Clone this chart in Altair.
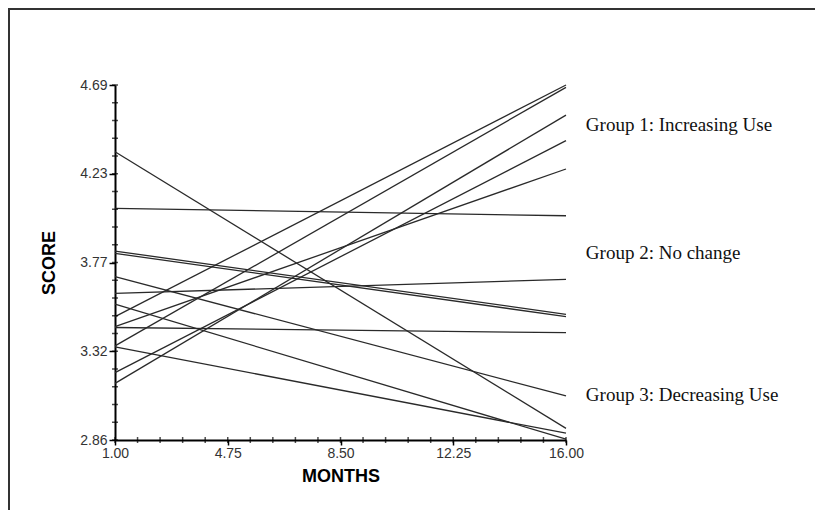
import altair as alt
import pandas as pd

# ---- data ----
start_month = 1.0
end_month = 16.0
start_scores = [4.346, 4.054, 3.834, 3.822, 3.702, 3.616, 3.560, 3.496, 3.445, 3.440, 3.345, 3.340, 3.207, 3.152]
end_scores = [2.920, 4.016, 3.508, 3.496, 3.087, 3.688, 2.864, 4.690, 4.257, 3.413, 4.678, 2.895, 4.403, 4.535]

y_tick_values = [2.86, 2.9515, 3.043, 3.1345, 3.226, 3.3175, 3.409, 3.5005, 3.592, 3.6835, 3.775,
                 3.8665, 3.958, 4.0495, 4.141, 4.2325, 4.324, 4.4155, 4.507, 4.5985, 4.69]
y_major_values = [2.86, 3.3175, 3.775, 4.2325, 4.69]

x_tick_values = [1.0, 1.75, 2.5, 3.25, 4.0, 4.75, 5.5, 6.25, 7.0, 7.75, 8.5,
                 9.25, 10.0, 10.75, 11.5, 12.25, 13.0, 13.75, 14.5, 15.25, 16.0]
x_major_values = [1.0, 4.75, 8.5, 12.25, 16.0]

group_labels = ["Group 1: Increasing Use", "Group 2: No change", "Group 3: Decreasing Use"]
group_label_scores = [4.484, 3.824, 3.092]
group_label_month = 16.66

# ---- build tables ----
rows = []
for i, (s, e) in enumerate(zip(start_scores, end_scores)):
    rows.append({"id": i, "month": start_month, "score": s})
    rows.append({"id": i, "month": end_month, "score": e})
lines_df = pd.DataFrame(rows)
labels_df = pd.DataFrame({"label": group_labels, "score": group_label_scores,
                          "month": [group_label_month] * len(group_labels)})
y_ticks_df = pd.DataFrame({"score": y_tick_values})
x_ticks_df = pd.DataFrame({"month": x_tick_values})

x_scale = alt.Scale(domain=[start_month, end_month], nice=False, zero=False)
y_scale = alt.Scale(domain=[2.86, 4.69], nice=False, zero=False)

x_axis = alt.Axis(values=x_major_values, format=".2f",
                  title="MONTHS", grid=False, tickSize=5, labelPadding=1,
                  labelFont="Liberation Sans", labelFontSize=14, labelColor="#333333",
                  titleFont="Liberation Sans", titleFontSize=18, titleFontWeight="bold",
                  titleColor="#000000", titlePadding=7, labelFlush=False, labelOverlap=False)
y_axis = alt.Axis(values=y_major_values, format=".2f",
                  title="SCORE", grid=False, tickSize=6, labelPadding=2,
                  labelFont="Liberation Sans", labelFontSize=14, labelColor="#333333",
                  titleFont="Liberation Sans", titleFontSize=18, titleFontWeight="bold",
                  titleColor="#000000", titlePadding=21, labelFlush=False, labelOverlap=False)

lines = alt.Chart(lines_df).mark_line(color="#2a2a2a", strokeWidth=1.3).encode(
    x=alt.X("month:Q", scale=x_scale, axis=x_axis),
    y=alt.Y("score:Q", scale=y_scale, axis=y_axis),
    detail="id:N",
)

# minor ticks crossing the axis lines
y_minor = alt.Chart(y_ticks_df).mark_tick(orient="horizontal", color="#000000", size=6,
                                          thickness=1.5).encode(
    y=alt.Y("score:Q", scale=y_scale), x=alt.value(0))
x_minor = alt.Chart(x_ticks_df).mark_tick(orient="vertical", color="#000000", size=6,
                                          thickness=1.5).encode(
    x=alt.X("month:Q", scale=x_scale), y=alt.value(355))

texts = alt.Chart(labels_df).mark_text(align="left", baseline="middle", font="Liberation Serif",
                                       fontSize=19, color="#111111", clip=False).encode(
    x=alt.X("month:Q", scale=x_scale),
    y=alt.Y("score:Q", scale=y_scale),
    text="label:N",
)

frame_data = alt.Data(values=[{"k": 1}])
frame_top = alt.Chart(frame_data).mark_rule(color="#333333", strokeWidth=2).encode(
    x=alt.value(-107), x2=alt.value(720), y=alt.value(-76))
frame_left = alt.Chart(frame_data).mark_rule(color="#333333", strokeWidth=2).encode(
    x=alt.value(-106), y=alt.value(-77), y2=alt.value(425))

chart = alt.layer(lines, y_minor, x_minor, texts, frame_top, frame_left).properties(
    width=451, height=355,
    autosize=alt.AutoSizeParams(type="none"),
    padding={"left": 107, "top": 77, "right": 249, "bottom": 70},
).configure_view(stroke=None).configure_axis(
    domainColor="#000000", domainWidth=2, tickColor="#000000", tickWidth=1.5,
)

chart.save("out.html", embed_options={"renderer": "svg", "actions": False})
